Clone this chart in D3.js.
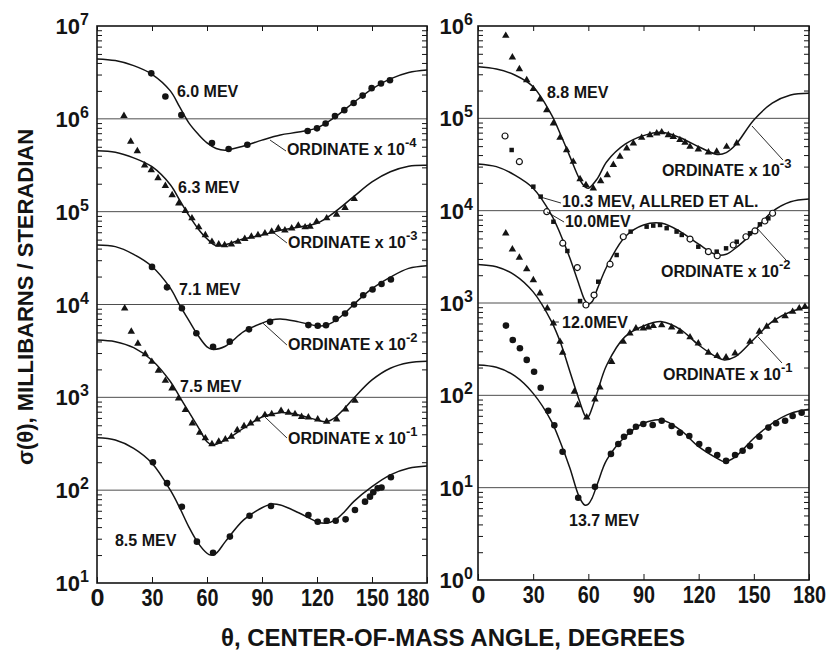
<!DOCTYPE html>
<html lang="en">
<head>
<meta charset="UTF-8">
<title>Angular distributions</title>
<script src="https://cdn.jsdelivr.net/npm/d3@7"></script>
<style>
  body { margin: 0; background: #fff; }
  svg text { font-family: "Liberation Sans", Arial, sans-serif; font-weight: bold; fill: #141414; }
  .frame { fill: none; stroke: #141414; stroke-width: 1.6; }
  .grid line { stroke: #3a3a3a; stroke-width: 0.9; }
  .fit { fill: none; stroke: #141414; stroke-width: 1.5; }
  .lead { stroke: #141414; stroke-width: 0.9; }
</style>
</head>
<body>
<div id="chart"></div>
<script>
// angle ticks (degrees, centre of mass)
const tickDegrees = [0, 30, 60, 90, 120, 150, 180];

// ---- left panel: fitted curves [angle, sigma] and measured points ----
const fit60 = [[0,4.42e6],[10,4.24e6],[20,3.74e6],[30,3.02e6],[40,2.0e6],[45,1.35e6],[50,9.1e5],[55,6.9e5],[60,5.5e5],[65,4.8e5],[70,4.6e5],[80,5.1e5],[90,5.9e5],[100,6.7e5],[110,7.2e5],[120,8.0e5],[130,1.05e6],[140,1.5e6],[150,2.09e6],[160,2.69e6],[170,3.16e6],[180,3.36e6]];
const pts60 = [[29.6,3.09e6],[37.3,1.74e6],[46,1.10e6],[62.7,5.5e5],[71.8,4.73e5],[82,5.25e5],[114.9,7.4e5],[120,7.9e5],[124.7,8.9e5],[129.8,1.07e6],[134.9,1.24e6],[140,1.48e6],[144.9,1.78e6],[149.8,2.14e6],[154.9,2.40e6],[159.8,2.60e6]];

const fit63 = [[0,4.54e5],[10,4.37e5],[20,3.80e5],[30,3.05e5],[40,1.95e5],[45,1.34e5],[50,9.2e4],[55,6.6e4],[60,5.1e4],[65,4.3e4],[70,4.4e4],[80,5.1e4],[90,5.6e4],[100,6.3e4],[110,6.8e4],[120,7.5e4],[125,8.5e4],[130,1.0e5],[140,1.45e5],[150,2.09e5],[160,2.69e5],[170,3.09e5],[180,3.16e5]];
const pts63 = [[14.7,1.08e6],[18.4,5.7e5],[22,4.5e5],[26,3.16e5],[29.6,2.8e5],[33.3,2.3e5],[37.3,1.9e5],[41,1.51e5],[44.6,1.23e5],[48.2,1.02e5],[51.8,8.5e4],[55.5,6.8e4],[59.1,5.6e4],[62.7,4.75e4],[66.4,4.45e4],[69.6,4.36e4],[73.3,4.45e4],[76.9,4.75e4],[80.6,5.1e4],[84.2,5.4e4],[87.8,5.6e4],[91.6,5.85e4],[95.3,6.1e4],[98.9,6.6e4],[102.5,6.3e4],[106.2,6.6e4],[109.8,7.1e4],[113.5,6.8e4],[116.2,6.9e4],[119.8,7.8e4],[125.3,8.5e4],[130.7,9.3e4],[135.3,1.10e5],[140.3,1.37e5]];

const fit71 = [[0,4.38e4],[10,4.2e4],[20,3.47e4],[30,2.57e4],[40,1.5e4],[45,9.9e3],[50,6.8e3],[55,4.68e3],[60,3.5e3],[63,3.29e3],[70,3.55e3],[80,5.1e3],[90,6.3e3],[95,6.8e3],[100,6.98e3],[110,6.5e3],[120,5.9e3],[125,5.97e3],[130,6.7e3],[135,8.0e3],[140,1.0e4],[150,1.48e4],[160,1.97e4],[170,2.45e4],[180,2.62e4]];
const pts71 = [[30,2.54e4],[38.2,1.53e4],[46.3,9.1e3],[54.2,4.9e3],[63.3,3.5e3],[72.4,3.98e3],[82.9,5.4e3],[94.4,6.5e3],[115.3,6.0e3],[120.4,5.9e3],[124.9,5.97e3],[130.2,7.0e3],[135.3,8.0e3],[140.2,1.0e4],[145.2,1.26e4],[150.3,1.45e4],[155.2,1.66e4],[160.3,1.86e4]];

const fit75 = [[0,4.15e3],[10,3.98e3],[20,3.43e3],[30,2.51e3],[40,1.48e3],[45,1.02e3],[50,700],[55,483],[60,333],[63,307],[70,347],[80,465],[90,614],[100,684],[110,646],[120,570],[125,547],[130,610],[135,759],[140,977],[150,1.54e3],[160,2.06e3],[170,2.36e3],[180,2.45e3]];
const pts75 = [[15.1,9.1e3],[18.7,5.1e3],[22.3,3.8e3],[26.3,2.93e3],[29.9,2.42e3],[33.5,1.94e3],[37.3,1.51e3],[40.9,1.25e3],[44.5,977],[48.2,731],[52,525],[56,417],[59.1,363],[62.7,314],[66.4,333],[70,353],[73.3,377],[76.5,445],[80.2,490],[83.8,525],[87.4,579],[91.6,646],[95.3,661],[100.4,718],[104.4,684],[108,661],[111.6,617],[115.3,610],[120.4,579],[125.3,547],[130.7,579],[135.6,741],[140.7,920]];

const fit85 = [[0,367],[10,347],[20,282],[30,195],[40,100],[45,65.3],[50,40.5],[55,27.2],[60,20.9],[62,20.0],[65,20.9],[70,27.9],[80,47.9],[90,64.6],[95,70.5],[100,69.2],[110,57.1],[120,45.7],[125,44.0],[130,47.9],[135,58.6],[140,75.2],[150,109],[160,146],[170,172],[180,182]];
const pts85 = [[30.5,200],[38.2,119],[46.3,66.4],[54.5,27.9],[63.3,21.2],[72.5,31.6],[83.2,53.1],[94.9,67.6],[115.3,54.1],[120.4,45.7],[125.3,46.8],[130.2,46.8],[135.6,48.5],[140.7,61.1],[146.2,75.2],[148.9,85.1],[150.7,94.8],[153.1,105],[155.2,107],[160.3,138]];

// ---- right panel ----
const fit88 = [[0,3.62e5],[10,3.42e5],[20,2.95e5],[30,2.2e5],[40,1.09e5],[45,6.6e4],[50,3.85e4],[55,2.24e4],[58,1.82e4],[60,1.75e4],[65,2.24e4],[70,3.39e4],[80,5.25e4],[90,6.5e4],[100,7.06e4],[110,6.17e4],[120,4.93e4],[130,4.07e4],[135,4.25e4],[140,5.13e4],[150,9.6e4],[160,1.46e5],[170,1.79e5],[180,1.87e5]];
const pts88 = [[15.1,7.85e5],[18.7,4.58e5],[22.5,3.42e5],[26.5,2.6e5],[30.1,2.08e5],[33.7,1.61e5],[37.4,1.23e5],[41,8.83e4],[44.6,6.17e4],[48.2,4.54e4],[51.8,3.39e4],[55.5,2.2e4],[58.7,1.9e4],[62.7,1.75e4],[66.7,2.09e4],[70.3,2.43e4],[73.6,3.13e4],[77.2,3.85e4],[80.9,4.74e4],[84.5,5.37e4],[89,6.17e4],[93.5,6.6e4],[97.2,6.89e4],[99.9,7.08e4],[103.5,6.6e4],[106.2,6.31e4],[109.8,5.83e4],[112.6,5.45e4],[115.3,4.93e4],[119.8,4.62e4],[125.3,4.29e4],[129.8,4.37e4],[135.2,4.93e4],[140.7,5.37e4]];

const fit100 = [[0,3.21e4],[10,3.0e4],[20,2.43e4],[30,1.75e4],[40,8.97e3],[45,5.46e3],[50,3.05e3],[55,1.57e3],[58,1.08e3],[60,968],[62,1.03e3],[65,1.44e3],[70,2.47e3],[80,5.22e3],[90,7.0e3],[100,7.3e3],[110,5.93e3],[120,4.33e3],[130,3.31e3],[135,3.37e3],[140,3.92e3],[150,5.93e3],[160,9.75e3],[170,1.25e4],[180,1.34e4]];
const pts100 = [[14.7,6.44e4],[22.5,3.39e4],[37.4,9.75e3],[46.1,4.44e3],[54,2.42e3],[58.7,951],[63.1,1.22e3],[71.8,2.63e3],[79,5.22e3],[115.3,4.93e3],[125.3,3.6e3],[130.1,3.25e3],[138.8,4.25e3],[145.7,5.22e3],[150.6,6.03e3],[156,7.73e3],[160.2,9.38e3]];
const pts103 = [[18.3,4.54e4],[30.1,1.82e4],[34.1,1.42e4],[41,7.59e3],[48.6,3.66e3],[55.5,1.05e3],[65.4,1.7e3],[75.4,3.31e3],[83,5.93e3],[91.7,6.71e3],[95.3,6.89e3],[99,7.0e3],[102.6,6.46e3],[108,5.93e3],[110.8,5.46e3],[119.8,4.07e3],[129.8,3.6e3],[134.9,3.91e3],[140.7,4.61e3],[147.9,5.69e3],[153.3,7.11e3],[157.9,8.26e3]];

const fit120 = [[0,2.62e3],[10,2.47e3],[20,2.01e3],[30,1.32e3],[40,628],[45,366],[50,180],[55,89.1],[58,61.2],[59,57.8],[60,58.7],[62,72.4],[65,110],[70,213],[80,432],[90,564],[100,628],[110,519],[120,351],[130,258],[134,242],[140,262],[150,405],[160,628],[170,805],[180,897]];
const pts120 = [[15.1,5.69e3],[18.7,3.82e3],[22.5,3.1e3],[26.5,2.33e3],[30.1,1.77e3],[33.7,1.27e3],[37.7,877],[41,603],[44.6,381],[46,290],[52.4,110],[54.2,78.5],[59.1,57.8],[63.6,90.6],[66.3,122],[72.7,231],[79,381],[82.6,470],[85.9,532],[89.9,532],[92.6,546],[95.3,564],[99.9,578],[105.3,546],[109.8,490],[115.3,426],[119.8,366],[125.3,290],[130.1,267],[134.9,258],[139.8,285],[147.9,381],[153,490],[157,555],[161.5,643],[167,723],[171.1,805],[174.7,877],[177.8,912]];

const fit137 = [[0,213],[10,201],[20,162],[30,105],[40,51.9],[45,30.2],[50,16.2],[55,7.98],[58,6.49],[60,6.65],[62,7.67],[65,11.1],[70,20.0],[80,35.6],[90,49.8],[100,54.1],[110,42.2],[120,27.8],[130,20.8],[134,19.1],[140,21.6],[150,34.3],[160,49.8],[170,63.8],[180,70.6]];
const pts137 = [[15.2,569],[18.9,398],[22.8,323],[26.5,242],[30.5,180],[34.1,121],[38.2,68.2],[41.5,47.3],[46,24.5],[54.5,7.78],[63.6,10.2],[72.3,23.2],[76.3,29.7],[79.4,35.6],[82.6,40.4],[85.9,45.7],[89.9,49.0],[95,47.8],[99.9,53.1],[105.3,46.6],[109.8,39.4],[114.9,36.3],[120.3,29.7],[125.3,25.6],[130.1,22.6],[134.9,19.5],[139.8,22.6],[143.9,25.1],[147.9,28.2],[153,35.6],[157.9,44.7],[162.1,49.8],[167,53.1],[171.1,59.7],[176,64.9]];

// curve labels: [angle, sigma] anchor, optional leader line
const notesLeft = [
  { text: "6.0 MEV", at: [43.6, 1.72e6] },
  { text: "ORDINATE x 10", sup: "-4", at: [103.6, 4.07e5], lead: [[94.4, 5.9e5], [103.1, 4.5e5]] },
  { text: "6.3 MEV", at: [44.2, 1.59e5] },
  { text: "ORDINATE x 10", sup: "-3", at: [104.2, 4.06e4], lead: [[94.4, 6.35e4], [103.6, 4.6e4]] },
  { text: "7.1 MEV", at: [44.7, 1.26e4] },
  { text: "ORDINATE x 10", sup: "-2", at: [104.2, 3.24e3], lead: [[90.5, 6.3e3], [103.6, 3.66e3]] },
  { text: "7.5 MEV", at: [45.3, 1.14e3] },
  { text: "ORDINATE x 10", sup: "-1", at: [104.2, 314], lead: [[91.6, 614], [103.6, 365]] },
  { text: "8.5 MEV", at: [9.8, 25.1] }
];
const notesRight = [
  { text: "8.8 MEV", at: [37.5, 1.66e5] },
  { text: "ORDINATE x 10", sup: "-3", at: [100, 2.38e4], lead: [[149, 8.26e4], [165.8, 3.54e4]] },
  { text: "10.3 MEV, ALLRED ET AL.", at: [45.7, 1.1e4], lead: [[33.7, 1.41e4], [45.1, 1.21e4]] },
  { text: "10.0MEV", at: [47.3, 6.65e3], lead: [[37.5, 9.68e3], [46.8, 7.53e3]] },
  { text: "ORDINATE x 10", sup: "-2", at: [99.5, 1.91e3], lead: [[151.7, 6.49e3], [167.5, 2.92e3]] },
  { text: "12.0MEV", at: [45.7, 536], lead: [[39.7, 622], [44, 622]] },
  { text: "ORDINATE x 10", sup: "-1", at: [100.6, 147], lead: [[152.3, 429], [165.3, 224]] },
  { text: "13.7 MEV", at: [49.5, 3.85] }
];

const svg = d3.select("#chart").append("svg")
  .attr("width", 837).attr("height", 654);

const panels = [
  { left: 97, right: 427, top: 26, bottom: 583, domain: [1e1, 1e7], labelGap: 8, pullLast: true,
    sets: [
      { fit: fit60, marks: [[pts60, "dot"]] },
      { fit: fit63, marks: [[pts63, "tri"]] },
      { fit: fit71, marks: [[pts71, "dot"]] },
      { fit: fit75, marks: [[pts75, "tri"]] },
      { fit: fit85, marks: [[pts85, "dot"]] }
    ], notes: notesLeft },
  { left: 478, right: 809, top: 26, bottom: 580, domain: [1e0, 1e6], labelGap: 5, pullLast: false,
    sets: [
      { fit: fit88, marks: [[pts88, "tri"]] },
      { fit: fit100, marks: [[pts100, "ring"], [pts103, "square"]] },
      { fit: fit120, marks: [[pts120, "tri"]] },
      { fit: fit137, marks: [[pts137, "dot"]] }
    ], notes: notesRight }
];

panels.forEach(p => {
  const x = d3.scaleLinear().domain([0, 180]).range([p.left, p.right]);
  const y = d3.scaleLog().domain(p.domain).range([p.bottom, p.top]);
  const g = svg.append("g");

  const allTicks = y.ticks();
  const decades = allTicks.filter(v => Math.abs(Math.log10(v) - Math.round(Math.log10(v))) < 1e-9);
  const minors = allTicks.filter(v => !decades.includes(v));

  // decade lines
  g.append("g").attr("class", "grid")
    .selectAll("line").data(decades.slice(1, -1)).join("line")
    .attr("x1", p.left).attr("x2", p.right)
    .attr("y1", d => y(d)).attr("y2", d => y(d));

  // inward ticks on all four sides
  const noLabel = () => "";
  g.append("g").attr("transform", `translate(${p.left},0)`)
    .call(d3.axisLeft(y).tickValues(minors).tickSize(-5).tickFormat(noLabel));
  g.append("g").attr("transform", `translate(${p.right},0)`)
    .call(d3.axisRight(y).tickValues(minors).tickSize(-5).tickFormat(noLabel));
  g.append("g").attr("transform", `translate(0,${p.top})`)
    .call(d3.axisTop(x).tickValues(tickDegrees).tickSize(-5).tickFormat(noLabel));
  const bottomAxis = g.append("g").attr("transform", `translate(0,${p.bottom})`)
    .call(d3.axisBottom(x).tickValues(tickDegrees).tickSize(-6).tickPadding(6).tickFormat(d3.format("d")));
  // lettering on the original is narrow: squeeze the digits a little
  bottomAxis.selectAll("text")
    .attr("font-size", 24).attr("font-family", null)
    .attr("textLength", d => d === 0 ? 14 : String(d).length * 11)
    .attr("lengthAdjust", "spacingAndGlyphs");
  if (p.pullLast) {
    // the 180 label sits left of its tick, clear of the next panel's labels
    bottomAxis.selectAll(".tick text").filter(d => d === 180)
      .attr("text-anchor", "end").attr("x", 2);
  }
  g.selectAll(".domain").remove();
  g.selectAll(".tick line").attr("stroke", "#141414").attr("stroke-width", 1);

  // decade labels 10^n
  const lab = g.append("g").selectAll("text").data(decades).join("text")
    .attr("x", p.left - p.labelGap)
    .attr("y", d => y(d) + 8)
    .attr("text-anchor", "end")
    .attr("font-size", 22);
  lab.append("tspan").text("10");
  lab.append("tspan").attr("font-size", 16).attr("dy", -9)
    .text(d => Math.round(Math.log10(d)));

  g.append("rect").attr("class", "frame")
    .attr("x", p.left).attr("y", p.top)
    .attr("width", p.right - p.left).attr("height", p.bottom - p.top);

  const line = d3.line()
    .x(d => x(d[0])).y(d => y(d[1]))
    .curve(d3.curveCatmullRom.alpha(0.5));

  p.sets.forEach(s => {
    g.append("path").attr("class", "fit").attr("d", line(s.fit));
    s.marks.forEach(([pts, kind]) => {
      const m = g.append("g").selectAll("g").data(pts).join("g")
        .attr("transform", d => `translate(${x(d[0])},${y(d[1])})`);
      if (kind === "dot") {
        m.append("circle").attr("r", 3.3).attr("fill", "#141414");
      } else if (kind === "ring") {
        m.append("circle").attr("r", 3).attr("fill", "#fff")
          .attr("stroke", "#141414").attr("stroke-width", 1.2);
      } else if (kind === "square") {
        m.append("path").attr("d", d3.symbol(d3.symbolSquare, 20)()).attr("fill", "#141414");
      } else {
        m.append("path").attr("d", d3.symbol(d3.symbolTriangle, 24)()).attr("fill", "#141414");
      }
    });
  });

  // labels and leader lines
  p.notes.forEach(n => {
    if (n.lead) {
      g.append("line").attr("class", "lead")
        .attr("x1", x(n.lead[0][0])).attr("y1", y(n.lead[0][1]))
        .attr("x2", x(n.lead[1][0])).attr("y2", y(n.lead[1][1]));
    }
    const t = g.append("text")
      .attr("x", x(n.at[0])).attr("y", y(n.at[1]))
      .attr("font-size", 16);
    t.append("tspan").text(n.text);
    if (n.sup) t.append("tspan").attr("font-size", 13).attr("dy", -8).text(n.sup);
  });
});

// axis titles
svg.append("text")
  .attr("transform", "translate(33,297) rotate(-90)")
  .attr("text-anchor", "middle")
  .attr("font-size", 22)
  .text("σ(θ), MILLIBARNS / STERADIAN");

svg.append("text")
  .attr("x", 453).attr("y", 646)
  .attr("text-anchor", "middle")
  .attr("font-size", 24)
  .text("θ, CENTER-OF-MASS ANGLE, DEGREES");
</script>
</body>
</html>
